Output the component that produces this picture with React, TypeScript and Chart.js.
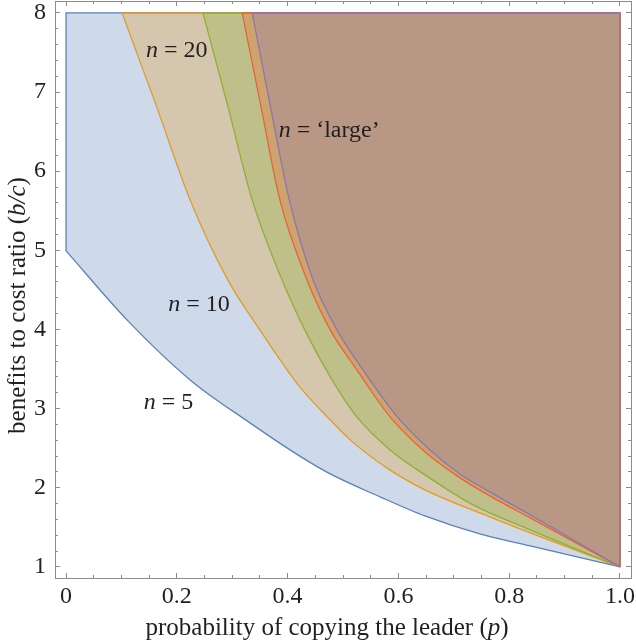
import React, { useEffect, useRef } from 'react';
import { Chart, registerables } from 'chart.js';

Chart.register(...registerables);

// ---------- data ----------
// boundary curves b/c(p) above which cooperation wins, one per group size n
const n5P = [0, 0.11, 0.224, 0.332, 0.422, 0.477, 0.567, 0.648, 0.747, 0.838, 1.0];
const n5B = [4.993, 4.121, 3.363, 2.82, 2.4, 2.175, 1.885, 1.644, 1.417, 1.265, 1.0];

const n10P = [0.101, 0.163, 0.224, 0.292, 0.35, 0.422, 0.477, 0.513, 0.579, 0.648, 0.765, 0.838, 1.0];
const n10B = [8, 6.825, 5.637, 4.626, 3.995, 3.274, 2.857, 2.605, 2.251, 1.973, 1.632, 1.43, 1.0];

const n20P = [0.247, 0.291, 0.336, 0.39, 0.431, 0.477, 0.525, 0.585, 0.648, 0.735, 0.838, 1.0];
const n20B = [8, 6.85, 5.637, 4.626, 3.995, 3.401, 2.895, 2.478, 2.163, 1.783, 1.468, 1.0];

const n50P = [0.318, 0.352, 0.386, 0.435, 0.477, 0.525, 0.585, 0.644, 0.706, 0.765, 0.838, 1.0];
const n50B = [8, 6.812, 5.637, 4.626, 3.995, 3.489, 2.895, 2.478, 2.15, 1.897, 1.619, 1.0];

const nLargeP = [0.336, 0.368, 0.403, 0.446, 0.489, 0.536, 0.598, 0.657, 0.711, 0.765, 0.838, 1.0];
const nLargeB = [8, 6.85, 5.637, 4.626, 3.995, 3.489, 2.895, 2.478, 2.175, 1.948, 1.657, 1.0];

// plotted region bounds
const B_TOP = 8;
const P_RIGHT = 1;

// axes
const X_MIN = -0.02;
const X_MAX = 1.02;
const Y_MIN = 0.86;
const Y_MAX = 8.15;

const xMajorTicks = [0, 0.2, 0.4, 0.6, 0.8, 1.0];
const xTickLabels = ['0', '0.2', '0.4', '0.6', '0.8', '1.0'];
const xMinorTicks = [0.05, 0.1, 0.15, 0.25, 0.3, 0.35, 0.45, 0.5, 0.55, 0.65, 0.7, 0.75, 0.85, 0.9, 0.95];
const yMajorTicks = [1, 2, 3, 4, 5, 6, 7, 8];
const yTickLabels = ['1', '2', '3', '4', '5', '6', '7', '8'];
const yMinorTicks = [1.2, 1.4, 1.6, 1.8, 2.2, 2.4, 2.6, 2.8, 3.2, 3.4, 3.6, 3.8, 4.2, 4.4, 4.6, 4.8,
  5.2, 5.4, 5.6, 5.8, 6.2, 6.4, 6.6, 6.8, 7.2, 7.4, 7.6, 7.8];

// in-plot labels: [p, b/c, text after the italic n]
const labelP = [0.185, 0.24, 0.2, 0.475];
const labelB = [3.0, 4.235, 7.44, 6.43];
const labelText = [' = 5', ' = 10', ' = 20', ' = \u2018large\u2019'];

const xTitle: [string, boolean][] = [['probability of copying the leader (', false], ['p', true], [')', false]];
const yTitle: [string, boolean][] = [['benefits to cost ratio (', false], ['b/c', true], [')', false]];

// ---------- styles ----------
const FONT = "'Liberation Serif', 'Times New Roman', serif";
const FRAME = '#8c8c8c';
const TEXT = '#231f20';
const seriesRGB = ['94,129,181', '225,156,36', '143,176,49', '235,98,53', '135,120,179'];

// straight outer edges of a region: (left edge), top edge, right edge
function edges(ps: number[], bs: number[]) {
  const pts: { x: number; y: number }[] = [];
  if (bs[0] < B_TOP) pts.push({ x: ps[0], y: bs[0] });
  pts.push({ x: ps[0], y: B_TOP });
  pts.push({ x: P_RIGHT, y: B_TOP });
  pts.push({ x: P_RIGHT, y: bs[bs.length - 1] });
  return pts;
}

function drawRich(ctx: CanvasRenderingContext2D, parts: [string, boolean][], size: number) {
  const fonts = parts.map(([, it]) => `${it ? 'italic ' : ''}${size}px ${FONT}`);
  const widths = parts.map(([t], i) => {
    ctx.font = fonts[i];
    return ctx.measureText(t).width;
  });
  const total = widths.reduce((a, b) => a + b, 0);
  let x = -total / 2;
  parts.forEach(([t], i) => {
    ctx.font = fonts[i];
    ctx.fillText(t, x, 0);
    x += widths[i];
  });
}

const textPlugin = {
  id: 'textPlugin',
  afterDraw(chart: any) {
    const { ctx, chartArea, scales } = chart;
    ctx.save();
    ctx.fillStyle = TEXT;
    ctx.textBaseline = 'alphabetic';
    ctx.textAlign = 'left';
    labelP.forEach((p, i) => {
      const px = scales.x.getPixelForValue(p);
      const py = scales.y.getPixelForValue(labelB[i]);
      ctx.save();
      ctx.translate(px, py);
      drawRich(ctx, [['n', true], [labelText[i], false]], 24);
      ctx.restore();
    });
    ctx.save();
    ctx.translate((chartArea.left + chartArea.right) / 2 - 16, chart.height - 5);
    drawRich(ctx, xTitle, 25);
    ctx.restore();
    ctx.save();
    ctx.translate(25, (chartArea.top + chartArea.bottom) / 2 + 16);
    ctx.rotate(-Math.PI / 2);
    drawRich(ctx, yTitle, 25);
    ctx.restore();
    ctx.restore();
  },
};

function frameAxis(position: string, ticks: number[], len: number, weight: number, size: number,
  border: boolean, labels?: string[], pad?: number) {
  const horizontal = position === 'top' || position === 'bottom';
  return {
    type: 'linear',
    position,
    min: horizontal ? X_MIN : Y_MIN,
    max: horizontal ? X_MAX : Y_MAX,
    weight,
    afterBuildTicks: (s: any) => {
      s.ticks = ticks.map((v) => ({ value: v }));
    },
    afterFit: (s: any) => {
      if (horizontal) s.height = size;
      else s.width = size;
      s.paddingTop = 0;
      s.paddingBottom = 0;
      s.paddingLeft = 0;
      s.paddingRight = 0;
    },
    border: { display: border, color: FRAME, width: 1 },
    grid: {
      display: true,
      drawOnChartArea: false,
      drawTicks: true,
      tickLength: -len,
      color: FRAME,
      lineWidth: 1,
    },
    ticks: labels
      ? {
          display: true,
          autoSkip: false,
          maxRotation: 0,
          minRotation: 0,
          padding: pad,
          color: TEXT,
          font: { family: FONT, size: 24 },
          callback: (_v: any, i: number) => labels[i],
        }
      : { display: false },
  };
}

export default function App() {
  const canvasRef = useRef<HTMLCanvasElement | null>(null);

  useEffect(() => {
    if (!canvasRef.current) return;
    const curves = [
      [n5P, n5B],
      [n10P, n10B],
      [n20P, n20B],
      [n50P, n50B],
      [nLargeP, nLargeB],
    ];
    const datasets: any[] = [];
    curves.forEach(([ps, bs], i) => {
      const color = `rgba(${seriesRGB[i]},1)`;
      // boundary curve, region above it filled up to b/c = 8
      datasets.push({
        data: ps.map((p, k) => ({ x: p, y: bs[k] })),
        showLine: true,
        fill: { value: B_TOP },
        cubicInterpolationMode: 'monotone',
        pointRadius: 0,
        pointHoverRadius: 0,
        borderWidth: 1.3,
        borderColor: color,
        backgroundColor: `rgba(${seriesRGB[i]},0.3)`,
        order: 20 - 2 * i,
      });
      // outline of the region's straight edges
      datasets.push({
        data: edges(ps, bs),
        showLine: true,
        fill: false,
        tension: 0,
        pointRadius: 0,
        pointHoverRadius: 0,
        borderWidth: 1.3,
        borderColor: color,
        order: 19 - 2 * i,
      });
    });

    const chart = new Chart(canvasRef.current, {
      type: 'scatter',
      data: { datasets },
      options: {
        animation: false,
        responsive: true,
        maintainAspectRatio: false,
        layout: { padding: { top: 1, right: 5, left: 0, bottom: 0 } },
        plugins: { legend: { display: false }, tooltip: { enabled: false } },
        events: [],
        scales: {
          x: frameAxis('bottom', xMajorTicks, 5, 0, 62, true, xTickLabels, 9),
          xMinor: frameAxis('bottom', xMinorTicks, 3, -1, 0, false),
          xTop: frameAxis('top', xMajorTicks, 5, 0, 0, true),
          xTopMinor: frameAxis('top', xMinorTicks, 3, -1, 0, false),
          y: frameAxis('left', yMajorTicks, 5, 0, 55, true, yTickLabels, 14),
          yMinor: frameAxis('left', yMinorTicks, 3, -1, 0, false),
          yRight: frameAxis('right', yMajorTicks, 5, 0, 0, true),
          yRightMinor: frameAxis('right', yMinorTicks, 3, -1, 0, false),
        } as any,
      },
      plugins: [textPlugin],
    });
    return () => chart.destroy();
  }, []);

  return (
    <div style={{ position: 'absolute', left: 0, top: 0, width: 636, height: 640, background: '#fff' }}>
      <canvas ref={canvasRef} />
    </div>
  );
}
